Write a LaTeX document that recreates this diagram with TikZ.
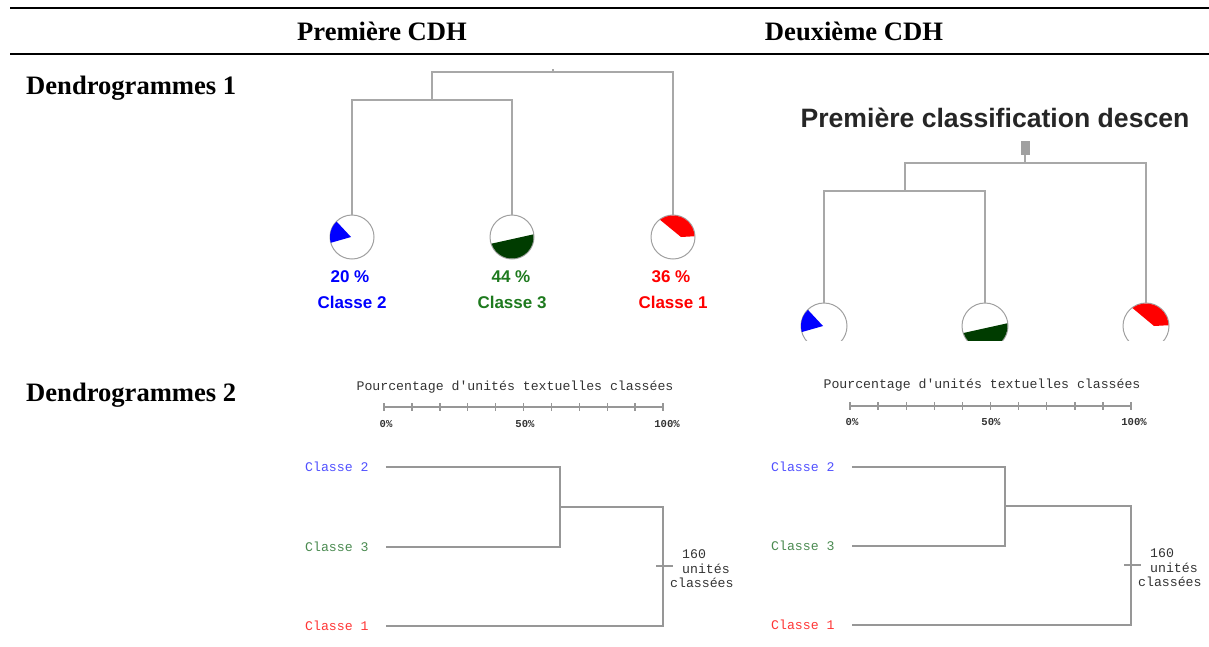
\documentclass[tikz,border=0pt]{standalone}
\usepackage{fontspec}
\usetikzlibrary{calc}
\setmainfont{Liberation Serif}
\setsansfont{Liberation Sans}
\setmonofont{Liberation Mono}
\definecolor{branchgray}{HTML}{A8A8A8}
\definecolor{piegray}{HTML}{A0A0A0}
\definecolor{darkpie}{HTML}{003C00}
\definecolor{lblgreen}{HTML}{1E7A1E}
\definecolor{monoblue}{HTML}{5050FF}
\definecolor{monogreen}{HTML}{4A8A50}
\definecolor{monored}{HTML}{FF3535}
\definecolor{monotext}{HTML}{333333}
\begin{document}
\begin{tikzpicture}[x=1pt,y=-1pt,
  rule/.style={line width=2.2pt},
  head/.style={font=\fontsize{26.6}{28}\selectfont\bfseries, inner sep=0pt},
  branch/.style={draw=branchgray, line width=1.8pt},
  pienode/.style={circle, draw=piegray, line width=1pt, minimum size=44pt, inner sep=0pt},
  pct/.style={font=\sffamily\bfseries\fontsize{17}{19}\selectfont, inner sep=0pt},
  title/.style={font=\sffamily\bfseries\fontsize{26.6}{28}\selectfont, text=black!85, inner sep=0pt},
  axis/.style={font=\ttfamily\fontsize{13.2}{15}\selectfont, text=monotext, inner sep=0pt},
  tick/.style={font=\ttfamily\bfseries\fontsize{10.6}{12}\selectfont, text=monotext, inner sep=0pt},
  leaf/.style={font=\ttfamily\fontsize{13.2}{15}\selectfont, inner sep=0pt, anchor=west},
  dline/.style={draw=branchgray!90!black, line width=1.4pt},
  units/.style={font=\ttfamily\fontsize{13.2}{14.5}\selectfont, text=monotext, align=left, inner sep=0pt, anchor=west}
]
\useasboundingbox (0,0) rectangle (1209,646);

% table rules and headings
\draw[rule] (10,8) -- (1209,8);
\draw[rule] (10,54) -- (1209,54);
\node[head] (h1) at (382,31) {Première CDH};
\node[head] (h2) at (854,31) {Deuxième CDH};
\node[head, anchor=west] (r1) at (26,88) {Dendrogrammes 1};
\node[head, anchor=west] (r2) at (26,395) {Dendrogrammes 2};

% ---------- first CDH, tree with pies ----------
\node[pienode] (a2) at (352,237) {};
\node[pienode] (a3) at (512,237) {};
\node[pienode] (a1) at (673,237) {};
\coordinate (aj) at (432,100);
\coordinate (ar) at (553,72);
\draw[branch] (a2.north) -- (a2.north |- aj) -- (a3.north |- aj) -- (a3.north);
\draw[branch] (aj) -- (aj |- ar) -- (a1.north |- ar) -- (a1.north);
\draw[branch] (ar) -- ++(0,-3);
% class shares
\fill[blue] ([xshift=-1pt]a2.center) -- ++(133:21pt) arc[start angle=133, end angle=196, radius=21pt] -- cycle;
\fill[darkpie] ([shift={(198:21.5pt)}]a3.center) arc[start angle=198, end angle=367, radius=21.5pt] -- cycle;
\fill[red] ([xshift=8pt]a1.center) -- ([shift={(2:21.5pt)}]a1.center) arc[start angle=2, end angle=127, radius=21.5pt] -- cycle;
\node[pct, text=blue] (a2p) at (350,277) {20 \%};
\node[pct, text=blue] (a2c) at (352,302) {Classe 2};
\node[pct, text=lblgreen] (a3p) at (511,277) {44 \%};
\node[pct, text=lblgreen] (a3c) at (512,302) {Classe 3};
\node[pct, text=red] (a1p) at (671,277) {36 \%};
\node[pct, text=red] (a1c) at (673,302) {Classe 1};

% ---------- second CDH, tree with pies ----------
\node[title] (bt) at (995,118) {Première classification descen};
\node[fill=piegray, minimum width=9pt, minimum height=14pt, inner sep=0pt] (bbox) at (1025,148) {};
\coordinate (br) at (1025,163);
\coordinate (bj) at (905,191);
\begin{scope}
\clip (780,140) rectangle (1209,340);
\node[pienode, minimum size=46pt] (b2) at (824,326) {};
\node[pienode, minimum size=46pt] (b3) at (985,326) {};
\node[pienode, minimum size=46pt] (b1) at (1146,326) {};
\fill[blue] ([xshift=-1pt]b2.center) -- ++(133:22pt) arc[start angle=133, end angle=196, radius=22pt] -- cycle;
\fill[darkpie] ([shift={(198:22.5pt)}]b3.center) arc[start angle=198, end angle=367, radius=22.5pt] -- cycle;
\fill[red] ([xshift=8pt]b1.center) -- ([shift={(2:22.5pt)}]b1.center) arc[start angle=2, end angle=127, radius=22.5pt] -- cycle;
\end{scope}
\draw[branch] (bbox.south) -- (br);
\draw[branch] (b2.north) -- (b2.north |- bj) -- (b3.north |- bj) -- (b3.north);
\draw[branch] (bj) -- (bj |- br) -- (b1.north |- br) -- (b1.north);

% ---------- first CDH, horizontal dendrogram ----------
\node[axis] (ca) at (515,387) {Pourcentage d'unités textuelles classées};
\coordinate (cs0) at (384,407);
\coordinate (cs1) at (663,407);
\draw[dline] (cs0) -- (cs1);
\foreach \i in {0,...,10} {
  \draw[dline] ($(cs0)!\i/10!(cs1)+(0,-4)$) -- ($(cs0)!\i/10!(cs1)+(0,4)$);
}
\node[tick] (ct0) at (386,424) {0\%};
\node[tick] (ct5) at (525,424) {50\%};
\node[tick] (ct10) at (667,424) {100\%};
\node[leaf, text=monoblue] (c2) at (305,467) {Classe 2};
\node[leaf, text=monogreen] (c3) at (305,547) {Classe 3};
\node[leaf, text=monored] (c1) at (305,626) {Classe 1};
\coordinate (cm) at (560,507);
\coordinate (cr) at (663,566);
\draw[dline] ([xshift=17pt]c2.east) -- (cm |- c2) -- (cm |- c3) -- ([xshift=17pt]c3.east);
\draw[dline] (cm) -- (cr |- cm) -- (cr |- c1) -- ([xshift=17pt]c1.east);
\draw[dline] ([xshift=-7pt]cr) -- ([xshift=10pt]cr);
\node[units] (cu) at (670,569) {\hspace*{12pt}160\\\hspace*{12pt}unités\\classées};

% ---------- second CDH, horizontal dendrogram ----------
\node[axis] (da) at (982,385) {Pourcentage d'unités textuelles classées};
\coordinate (ds0) at (850,406);
\coordinate (ds1) at (1131,406);
\draw[dline] (ds0) -- (ds1);
\foreach \i in {0,...,10} {
  \draw[dline] ($(ds0)!\i/10!(ds1)+(0,-4)$) -- ($(ds0)!\i/10!(ds1)+(0,4)$);
}
\node[tick] (dt0) at (852,422) {0\%};
\node[tick] (dt5) at (991,422) {50\%};
\node[tick] (dt10) at (1134,422) {100\%};
\node[leaf, text=monoblue] (d2) at (771,467) {Classe 2};
\node[leaf, text=monogreen] (d3) at (771,546) {Classe 3};
\node[leaf, text=monored] (d1) at (771,625) {Classe 1};
\coordinate (dm) at (1005,506);
\coordinate (dr) at (1131,565);
\draw[dline] ([xshift=17pt]d2.east) -- (dm |- d2) -- (dm |- d3) -- ([xshift=17pt]d3.east);
\draw[dline] (dm) -- (dr |- dm) -- (dr |- d1) -- ([xshift=17pt]d1.east);
\draw[dline] ([xshift=-7pt]dr) -- ([xshift=10pt]dr);
\node[units] (du) at (1138,568) {\hspace*{12pt}160\\\hspace*{12pt}unités\\classées};
\end{tikzpicture}
\end{document}
